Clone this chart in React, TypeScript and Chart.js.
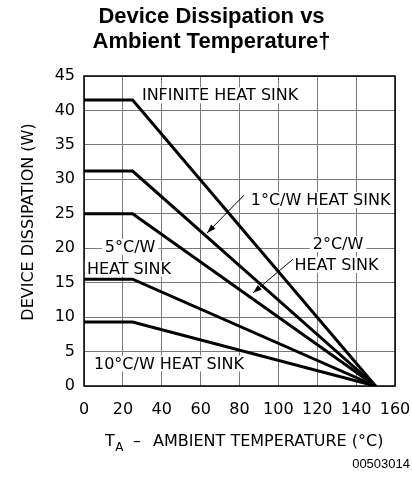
import React, { useEffect, useRef } from "react";
import { Chart, registerables } from "chart.js";

Chart.register(...registerables);

// ---- data ----
const temperatures = [0, 25, 150];
const infiniteSink = [41.5, 41.5, 0];
const sink1CW = [31.2, 31.2, 0];
const sink2CW = [25, 25, 0];
const sink5CW = [15.5, 15.5, 0];
const sink10CW = [9.3, 9.3, 0];
const seriesNames = ["INFINITE HEAT SINK", "1°C/W HEAT SINK", "2°C/W HEAT SINK", "5°C/W HEAT SINK", "10°C/W HEAT SINK"];
const xTicks = [0, 20, 40, 60, 80, 100, 120, 140, 160];
const yTicks = [0, 5, 10, 15, 20, 25, 30, 35, 40, 45];
const titleLines = ["Device Dissipation vs", "Ambient Temperature\u2020"];
const yTitle = "DEVICE DISSIPATION (W)";
const xTitleRest = "AMBIENT TEMPERATURE (°C)";
const figureCode = "00503014";

// label annotations [text, x, y] in data units
const labelTexts = ["INFINITE HEAT SINK", "1°C/W HEAT SINK", "2°C/W", "HEAT SINK", "5°C/W", "HEAT SINK", "10°C/W HEAT SINK"];
const labelX = [70.0, 121.7, 130.7, 129.9, 23.7, 23.1, 43.7];
const labelY = [42.2, 27.0, 20.6, 17.6, 20.2, 17.0, 3.27];
// arrows: from -> to (data units)
const arrowFromX = [82.3, 107.5];
const arrowFromY = [27.7, 18.4];
const arrowToX = [63.3, 86.9];
const arrowToY = [22.2, 13.5];

const FONT = "'DejaVu Sans', sans-serif";

const overlay = {
  id: "overlay",
  beforeDatasetsDraw(chart: any) {
    const { ctx, scales } = chart;
    const xs = scales.x, ys = scales.y;
    ctx.save();
    ctx.font = `16px ${FONT}`;
    ctx.textBaseline = "middle";
    ctx.textAlign = "center";
    labelTexts.forEach((t, i) => {
      const px = xs.getPixelForValue(labelX[i]);
      const py = ys.getPixelForValue(labelY[i]);
      const w = ctx.measureText(t).width;
      ctx.fillStyle = "#fff";
      ctx.fillRect(px - w / 2 - 3, py - 8, w + 6, 16);
      ctx.fillStyle = "#000";
      ctx.fillText(t, px, py + 1);
    });
    ctx.restore();
  },
  afterDatasetsDraw(chart: any) {
    const { ctx, scales, chartArea } = chart;
    const xs = scales.x, ys = scales.y;
    ctx.save();
    ctx.strokeStyle = "#000";
    ctx.fillStyle = "#000";
    ctx.lineWidth = 1;
    arrowFromX.forEach((_, i) => {
      const x1 = xs.getPixelForValue(arrowFromX[i]);
      const y1 = ys.getPixelForValue(arrowFromY[i]);
      const x2 = xs.getPixelForValue(arrowToX[i]);
      const y2 = ys.getPixelForValue(arrowToY[i]);
      ctx.beginPath();
      ctx.moveTo(x1, y1);
      ctx.lineTo(x2, y2);
      ctx.stroke();
      const ang = Math.atan2(y2 - y1, x2 - x1);
      const L = 9, H = 3;
      ctx.beginPath();
      ctx.moveTo(x2, y2);
      ctx.lineTo(x2 - L * Math.cos(ang) + H * Math.sin(ang), y2 - L * Math.sin(ang) - H * Math.cos(ang));
      ctx.lineTo(x2 - L * Math.cos(ang) - H * Math.sin(ang), y2 - L * Math.sin(ang) + H * Math.cos(ang));
      ctx.closePath();
      ctx.fill();
    });
    ctx.lineWidth = 1.5;
    ctx.strokeRect(chartArea.left, chartArea.top, chartArea.right - chartArea.left, chartArea.bottom - chartArea.top);
    ctx.restore();
  },
  afterDraw(chart: any) {
    const { ctx } = chart;
    ctx.save();
    ctx.fillStyle = "#000";
    ctx.font = `bold 22px 'Liberation Sans', Arial, sans-serif`;
    ctx.textAlign = "center";
    ctx.textBaseline = "alphabetic";
    ctx.fillText(titleLines[0], 211.5, 23);
    ctx.fillText(titleLines[1], 211.5, 48);
    ctx.font = `16px ${FONT}`;
    ctx.save();
    ctx.translate(29, 222);
    ctx.rotate(-Math.PI / 2);
    ctx.textBaseline = "middle";
    ctx.fillText(yTitle, 0, 0);
    ctx.restore();
    ctx.textAlign = "left";
    ctx.textBaseline = "alphabetic";
    const x0 = 105, base = 446;
    ctx.fillText("T", x0, base);
    const wT = ctx.measureText("T").width;
    ctx.font = `12px ${FONT}`;
    ctx.fillText("A", x0 + wT + 0.5, base + 5);
    ctx.font = `16px ${FONT}`;
    ctx.textAlign = "center";
    ctx.fillText("\u2013", 137, base);
    ctx.textAlign = "left";
    ctx.fillText(xTitleRest, 153, base);
    ctx.font = `13px 'Liberation Sans', Arial, sans-serif`;
    ctx.textAlign = "right";
    ctx.fillText(figureCode, 410, 468);
    ctx.restore();
  },
};

function makeData(vals: number[]) {
  return temperatures.map((t, i) => ({ x: t, y: vals[i] }));
}

export default function App() {
  const ref = useRef<HTMLCanvasElement>(null);
  useEffect(() => {
    if (!ref.current) return;
    const series = [infiniteSink, sink1CW, sink2CW, sink5CW, sink10CW];
    const chart = new Chart(ref.current, {
      type: "scatter",
      data: {
        datasets: series.map((s, i) => ({
          label: seriesNames[i],
          data: makeData(s),
          showLine: true,
          borderColor: "#000",
          borderWidth: 3,
          pointRadius: 0,
          fill: false,
          tension: 0,
        })),
      },
      options: {
        responsive: false,
        animation: false,
        devicePixelRatio: 1,
        layout: { padding: { top: 76, right: 17, left: 0, bottom: 0 } },
        plugins: { legend: { display: false }, title: { display: false }, tooltip: { enabled: false } },
        scales: {
          x: {
            type: "linear",
            min: xTicks[0],
            max: xTicks[xTicks.length - 1],
            afterFit: (s: any) => { s.height = 95; s.paddingLeft = 0; s.paddingRight = 0; },
            afterBuildTicks: (s: any) => { s.ticks = xTicks.map((v) => ({ value: v })); },
            ticks: { color: "#000", padding: 14, font: { family: FONT, size: 16 }, maxRotation: 0 },
            grid: { color: "#7a7a7a", lineWidth: 1, drawTicks: false },
            border: { display: false },
          },
          y: {
            type: "linear",
            min: yTicks[0],
            max: yTicks[yTicks.length - 1],
            afterFit: (s: any) => { s.width = 84; s.paddingTop = 0; s.paddingBottom = 0; },
            afterBuildTicks: (s: any) => { s.ticks = yTicks.map((v) => ({ value: v })); },
            ticks: { color: "#000", padding: 9, font: { family: FONT, size: 16 } },
            grid: { color: "#7a7a7a", lineWidth: 1, drawTicks: false },
            border: { display: false },
          },
        },
      },
      plugins: [overlay],
    });
    return () => chart.destroy();
  }, []);
  return (
    <div style={{ position: "absolute", left: 0, top: 0, width: 412, height: 481, background: "#fff" }}>
      <canvas ref={ref} width={412} height={481} style={{ width: 412, height: 481, display: "block" }} />
    </div>
  );
}
